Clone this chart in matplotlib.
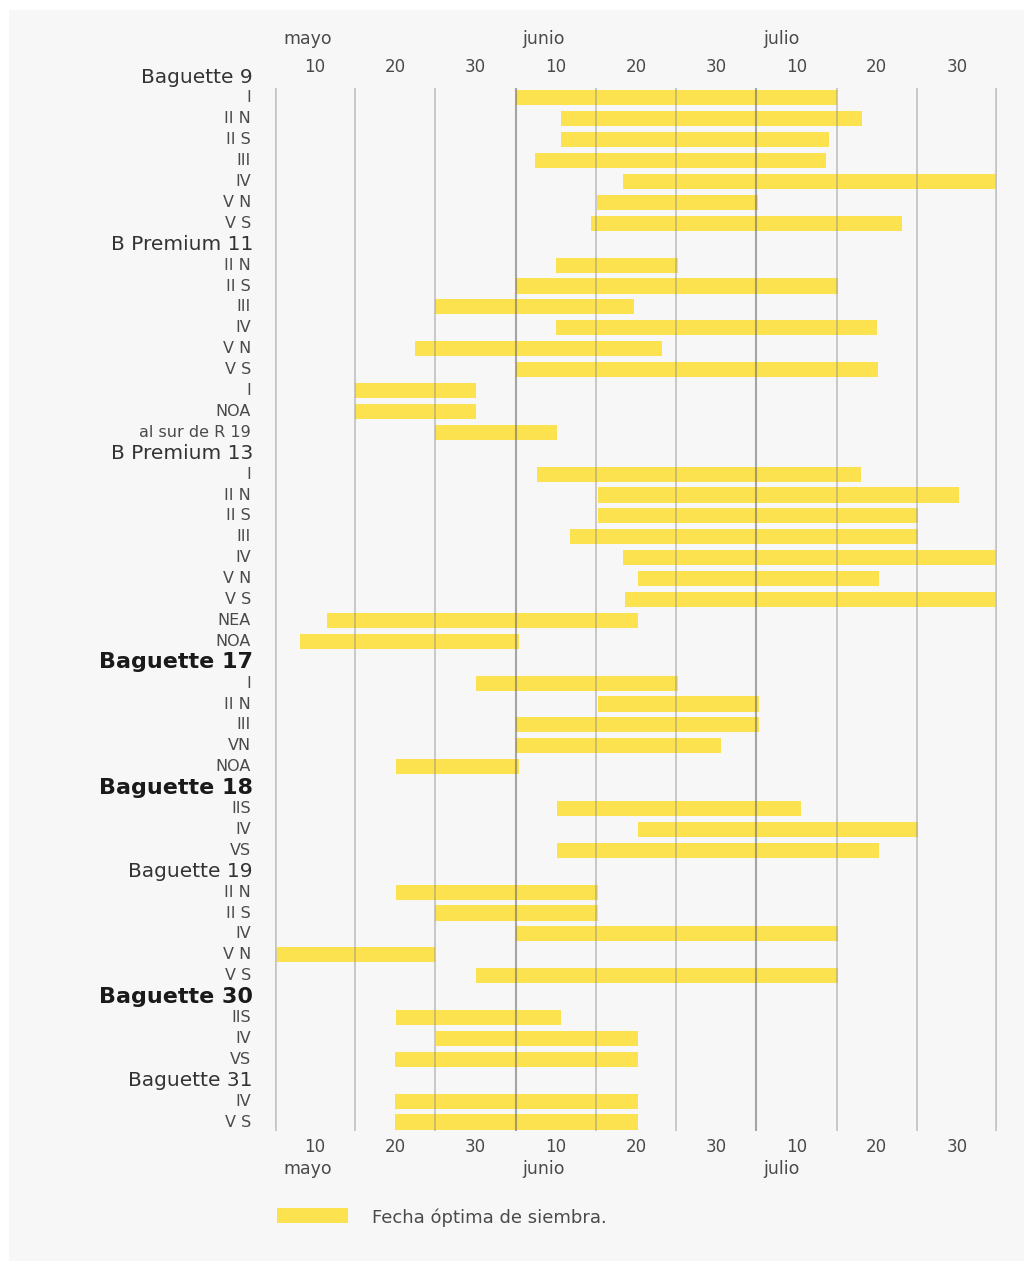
import numpy as np
import matplotlib
matplotlib.use("Agg")
import matplotlib.pyplot as plt
import matplotlib.transforms as mtransforms
from matplotlib.patches import Rectangle

# rows, top to bottom (None = group header, no bar)
labels = ["Baguette 9", "I", "II N", "II S", "III", "IV", "V N", "V S",
          "B Premium 11", "II N", "II S", "III", "IV", "V N", "V S", "I", "NOA", "al sur de R 19",
          "B Premium 13", "I", "II N", "II S", "III", "IV", "V N", "V S", "NEA", "NOA",
          "Baguette 17", "I", "II N", "III", "VN", "NOA",
          "Baguette 18", "IIS", "IV", "VS",
          "Baguette 19", "II N", "II S", "IV", "V N", "V S",
          "Baguette 30", "IIS", "IV", "VS",
          "Baguette 31", "IV", "V S"]
# day counted from 1 May (31 = 31 May, 35 = 4 June, ...)
starts = [None, 35, 40.7, 40.7, 37.4, 48.4, 45.2, 44.4,
          None, 40, 35, 25, 40, 22.5, 35, 15, 15, 25,
          None, 37.6, 45.3, 45.3, 41.8, 48.4, 50.2, 48.6, 11.5, 8.1,
          None, 30, 45.3, 35, 35, 20.1,
          None, 40.2, 50.2, 40.2,
          None, 20.1, 25, 35.1, 5, 30,
          None, 20.1, 25.1, 20,
          None, 20, 20]
ends = [None, 75.1, 78.2, 74, 73.7, 95, 65.2, 83.2,
        None, 55.2, 75.2, 49.7, 80, 53.3, 80.2, 30, 30, 40.2,
        None, 78.1, 90.3, 85.2, 85.2, 95, 80.3, 95, 50.3, 35.4,
        None, 55.2, 65.3, 65.3, 60.6, 35.4,
        None, 70.6, 85.2, 80.3,
        None, 45.3, 45.3, 75.2, 25, 75.2,
        None, 40.6, 50.3, 50.3,
        None, 50.2, 50.2]
bold_headers = ["Baguette 17", "Baguette 18", "Baguette 30"]

tick_days = [10, 20, 30, 40, 50, 60, 70, 80, 90]
tick_text = ["10", "20", "30", "10", "20", "30", "10", "20", "30"]
month_names = ["mayo", "junio", "julio"]
month_days = [9.1, 38.5, 68.1]
grid_days = [5, 15, 25, 35, 45, 55, 65, 75, 85, 95]

W, H = 1024, 1261
fig = plt.figure(figsize=(W / 100, H / 100), dpi=100, facecolor="white")
fig.add_artist(Rectangle((9 / W, 0), 1 - 9 / W, 1 - 10 / H, transform=fig.transFigure,
                         facecolor="#f7f7f7", edgecolor="none", zorder=-10))

ax = fig.add_axes([275 / W, 1 - 1131 / H, (997 - 275) / W, (1131 - 88) / H])
ax.set_facecolor("none")
ax.set_xlim(5, 95)
ax.set_ylim(50.43, 0.526)
ax.axis("off")

bar_color = "#fce24f"
for i, (s, e) in enumerate(zip(starts, ends)):
    if s is None:
        continue
    ax.barh(i, e - s, left=s, height=0.72, color=bar_color, zorder=2)

for d in grid_days:
    if d in (5, 95):
        ax.axvline(d, color="#c4c4c4", lw=2.6, zorder=3)
    elif d in (35, 65):
        ax.axvline(d, color="#6e6e6e", lw=1.5, alpha=0.6, zorder=3)
    else:
        ax.axvline(d, color="#8a8a8a", lw=1.2, alpha=0.5, zorder=3)

# row labels
lab_tr = mtransforms.blended_transform_factory(fig.transFigure, ax.transData)
for i, (lab, s) in enumerate(zip(labels, starts)):
    if s is None:
        if lab in bold_headers:
            ax.text(253 / W, i, lab, transform=lab_tr, ha="right", va="center",
                    fontsize=16, fontweight="bold", color="#1a1a1a", family="DejaVu Sans")
        else:
            ax.text(253 / W, i, lab, transform=lab_tr, ha="right", va="center",
                    fontsize=14.5, color="#333333", family="DejaVu Sans")
    else:
        ax.text(251 / W, i, lab, transform=lab_tr, ha="right", va="center",
                fontsize=11.5, color="#4a4a4a", family="DejaVu Sans")

# date scales top and bottom
top_tr = mtransforms.blended_transform_factory(ax.transData, fig.transFigure)
for d, t in zip(tick_days, tick_text):
    ax.text(d, 1 - 67 / H, t, transform=top_tr, ha="center", va="center",
            fontsize=12, color="#4a4a4a")
    ax.text(d, 1 - 1147 / H, t, transform=top_tr, ha="center", va="center",
            fontsize=12, color="#4a4a4a")
for d, m in zip(month_days, month_names):
    ax.text(d, 1 - 39 / H, m, transform=top_tr, ha="center", va="center",
            fontsize=12.5, color="#4a4a4a")
    ax.text(d, 1 - 1169 / H, m, transform=top_tr, ha="center", va="center",
            fontsize=12.5, color="#4a4a4a")

# legend
fig.add_artist(Rectangle((277 / W, 1 - 1223 / H), 71 / W, 15 / H, transform=fig.transFigure,
                         facecolor=bar_color, edgecolor="none"))
fig.text(372 / W, 1 - 1218 / H, "Fecha óptima de siembra.", ha="left", va="center",
         fontsize=13, color="#4a4a4a")

fig.savefig("out.png", dpi=100, facecolor=fig.get_facecolor())
